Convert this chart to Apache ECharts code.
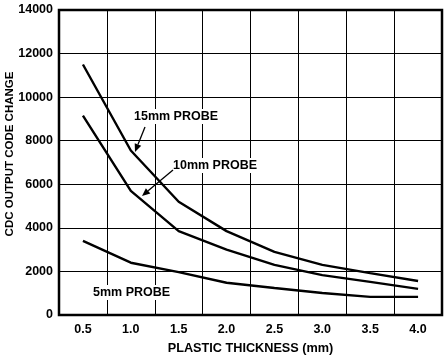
<!DOCTYPE html>
<html>
<head>
<meta charset="utf-8">
<script src="https://cdn.jsdelivr.net/npm/echarts@6/dist/echarts.min.js"></script>
<style>html,body{margin:0;padding:0;background:#fff;}#c{width:445px;height:357px;}</style>
</head>
<body>
<div id="c"></div>
<script>
const thickness = ['0.5','1.0','1.5','2.0','2.5','3.0','3.5','4.0'];
const probe15 = [11500, 7550, 5200, 3850, 2900, 2300, 1920, 1560];
const probe10 = [9150, 5700, 3850, 3000, 2300, 1830, 1520, 1200];
const probe5  = [3400, 2400, 1970, 1480, 1240, 1010, 830, 830];
const yTicks = [0, 2000, 4000, 6000, 8000, 10000, 12000, 14000];
const yTitle = 'CDC OUTPUT CODE CHANGE';
const xTitle = 'PLASTIC THICKNESS (mm)';

const chart = echarts.init(document.getElementById('c'));
const font = 'Liberation Sans, Arial, sans-serif';
const lineStyle = {color:'#000', width:2.4};
function ser(name, data){
  return {name, type:'line', data, symbol:'none', lineStyle, animation:false, z:3};
}
function label(x, y, text){
  return {type:'text', left:x, top:y, z:10,
    style:{text, font:'bold 12.5px ' + font, fill:'#000', backgroundColor:'#fff', padding:[1,1,1,1]}};
}
function arrow(x1,y1,x2,y2){
  const ang = Math.atan2(y2-y1, x2-x1);
  const L = 8, W = 3.5;
  const bx = x2 - L*Math.cos(ang), by = y2 - L*Math.sin(ang);
  const px = -Math.sin(ang)*W, py = Math.cos(ang)*W;
  return [
    {type:'line', z:11, shape:{x1, y1, x2:bx, y2:by}, style:{stroke:'#000', lineWidth:1.3}},
    {type:'polygon', z:11, shape:{points:[[x2,y2],[bx+px,by+py],[bx-px,by-py]]}, style:{fill:'#000'}}
  ];
}
chart.setOption({
  animation:false,
  backgroundColor:'#fff',
  grid:{left:59, right:3, top:10, bottom:42, containLabel:false, outerBoundsMode:'none',
    show:true, borderColor:'#000', borderWidth:2.5, backgroundColor:'transparent'},
  xAxis:{type:'category', data:thickness, boundaryGap:true,
    name:xTitle, nameLocation:'middle', nameGap:27,
    nameTextStyle:{fontFamily:font, fontWeight:'bold', fontSize:12.7, color:'#000'},
    axisLine:{show:false}, axisTick:{show:false},
    axisLabel:{fontFamily:font, fontWeight:'bold', fontSize:12.5, color:'#000', margin:8},
    splitLine:{show:true, lineStyle:{color:'#000', width:1}}},
  yAxis:{type:'value', min:0, max:14000, interval:2000,
    axisLine:{show:false}, axisTick:{show:false},
    axisLabel:{fontFamily:font, fontWeight:'bold', fontSize:12.5, color:'#000', margin:6,
      formatter: v => yTicks.includes(v) ? String(v) : ''},
    splitLine:{show:true, lineStyle:{color:'#000', width:1}}},
  series:[ser('15mm PROBE', probe15), ser('10mm PROBE', probe10), ser('5mm PROBE', probe5)],
  graphic:[
    {type:'text', x:10, y:154, rotation:Math.PI/2, z:10,
      style:{text:yTitle, font:'bold 11.5px ' + font, fill:'#000', align:'center', verticalAlign:'middle'}},
    label(133, 109, '15mm PROBE'),
    label(172, 158, '10mm PROBE'),
    label(92, 285, '5mm PROBE'),
    ...arrow(145, 127, 135, 152),
    ...arrow(173, 170, 142, 196)
  ]
});
</script>
</body>
</html>
